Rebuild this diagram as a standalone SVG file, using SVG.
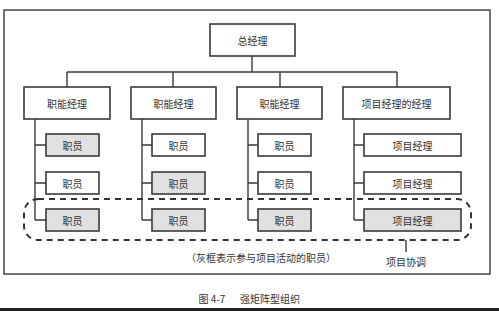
<svg xmlns="http://www.w3.org/2000/svg" width="499" height="311" viewBox="0 0 499 311">
<defs>
<pattern id="stip" width="2" height="2" patternUnits="userSpaceOnUse">
<rect width="2" height="2" fill="#e8e8e8"/>
<rect x="0" y="0" width="1" height="1" fill="#d6d6d6"/>
<rect x="1" y="1" width="1" height="1" fill="#dcdcdc"/>
</pattern>
</defs>
<style>
.bx{fill:#fff;stroke:#3a3a3a;stroke-width:1.6}
.gy{fill:url(#stip);stroke:#3a3a3a;stroke-width:1.6}
.t{font-family:"Noto Sans CJK SC","Liberation Sans",sans-serif;font-size:10px;fill:#333;text-anchor:middle;dominant-baseline:central}
.ln{fill:none;stroke:#3a3a3a;stroke-width:1.4}
.dash{fill:none;stroke:#333;stroke-width:2;stroke-dasharray:6 5}
</style>
<rect x="0" y="0" width="499" height="311" fill="#fff"/>
<rect x="4" y="10" width="486" height="264" fill="none" stroke="#444" stroke-width="1.5"/>
<g id="connectors">
<path class="ln" d="M252 56V72M67 72H397M67 72V87M173 72V87M280 72V87M397 72V87"/>
<path class="ln" d="M35 119V220M35 145H46M35 183H46M35 220H46"/>
<path class="ln" d="M142 119V220M142 145H152M142 183H152M142 220H152"/>
<path class="ln" d="M248 119V220M248 145H258M248 183H258M248 220H258"/>
<path class="ln" d="M354 119V220M354 145H364M354 183H364M354 220H364"/>
<path class="ln" d="M406 240V252"/>
</g>
<g id="gm"><rect class="bx" x="210" y="24" width="85" height="32"/><text class="t" x="252.5" y="40" font-size="11">总经理</text></g>
<g id="fm1"><rect class="bx" x="24" y="87" width="86" height="32"/><text class="t" x="67" y="103">职能经理</text></g>
<g id="fm2"><rect class="bx" x="131" y="87" width="85" height="32"/><text class="t" x="173.5" y="103">职能经理</text></g>
<g id="fm3"><rect class="bx" x="237" y="87" width="85" height="32"/><text class="t" x="279.5" y="103">职能经理</text></g>
<g id="pmm"><rect class="bx" x="343" y="87" width="107" height="32"/><text class="t" x="396.5" y="103">项目经理的经理</text></g>
<g id="s11"><rect class="gy" x="46" y="134" width="53" height="22"/><text class="t" x="72.5" y="145">职员</text></g>
<g id="s12"><rect class="bx" x="46" y="172" width="53" height="22"/><text class="t" x="72.5" y="183">职员</text></g>
<g id="s13"><rect class="gy" x="46" y="209" width="53" height="22"/><text class="t" x="72.5" y="220">职员</text></g>
<g id="s21"><rect class="bx" x="152" y="134" width="53" height="22"/><text class="t" x="178.5" y="145">职员</text></g>
<g id="s22"><rect class="gy" x="152" y="172" width="53" height="22"/><text class="t" x="178.5" y="183">职员</text></g>
<g id="s23"><rect class="gy" x="152" y="209" width="53" height="22"/><text class="t" x="178.5" y="220">职员</text></g>
<g id="s31"><rect class="bx" x="258" y="134" width="53" height="22"/><text class="t" x="284.5" y="145">职员</text></g>
<g id="s32"><rect class="bx" x="258" y="172" width="53" height="22"/><text class="t" x="284.5" y="183">职员</text></g>
<g id="s33"><rect class="gy" x="258" y="209" width="53" height="22"/><text class="t" x="284.5" y="220">职员</text></g>
<g id="p1"><rect class="bx" x="364" y="134" width="97" height="22"/><text class="t" x="412.5" y="145">项目经理</text></g>
<g id="p2"><rect class="bx" x="364" y="172" width="97" height="22"/><text class="t" x="412.5" y="183">项目经理</text></g>
<g id="p3"><rect class="gy" x="364" y="209" width="97" height="22"/><text class="t" x="412.5" y="220">项目经理</text></g>
<g id="coord">
<rect class="dash" x="24" y="199" width="447" height="41" rx="14"/>
<text class="t" x="406" y="261">项目协调</text>
</g>
<text class="t" x="261" y="257">（灰框表示参与项目活动的职员）</text>
<text class="t" x="212" y="298">图 4-7</text>
<text class="t" x="270" y="298">强矩阵型组织</text>
<rect x="0" y="308" width="499" height="3" fill="#222"/>
</svg>
